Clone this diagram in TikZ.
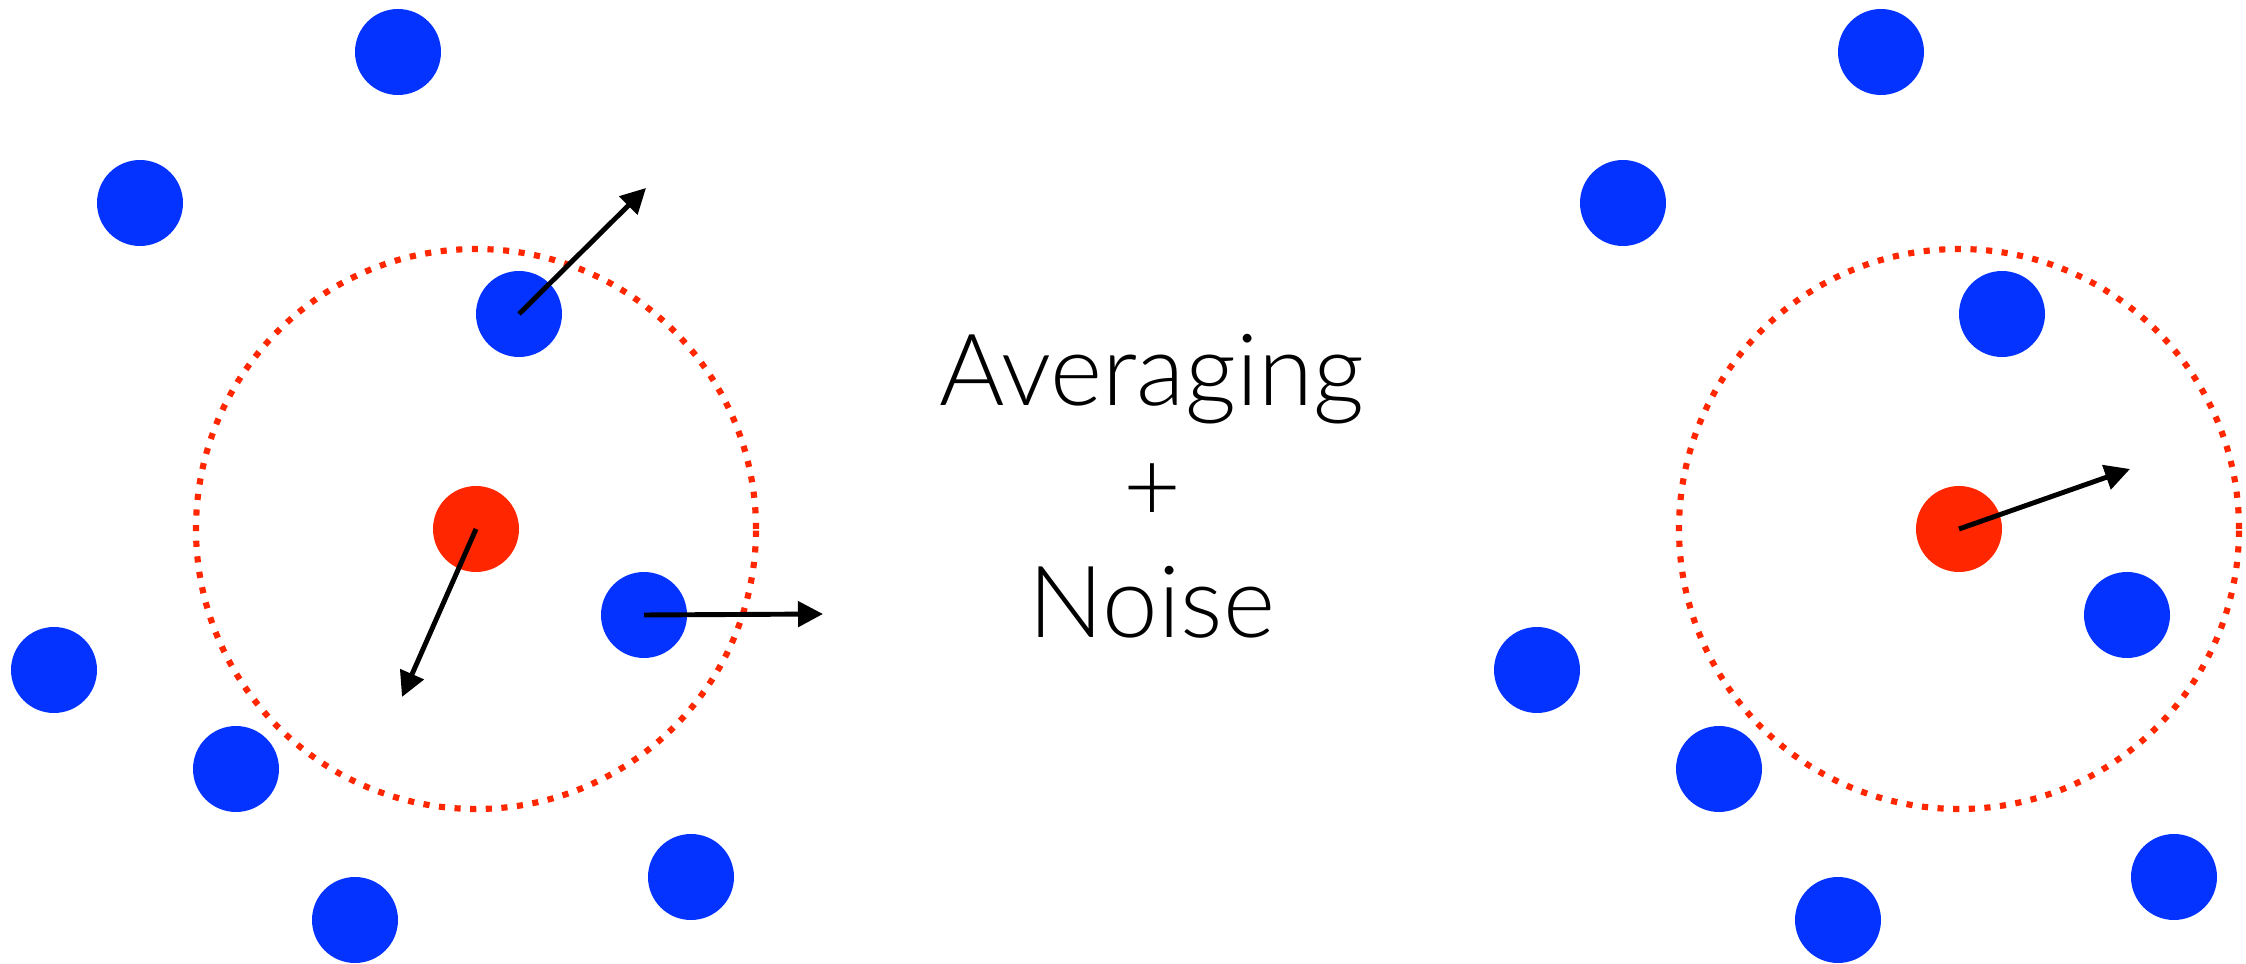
\documentclass[tikz,border=0pt]{standalone}
\usepackage{fontspec}
\newfontfamily\avgfont{Lato Light}
\usetikzlibrary{arrows.meta}
\definecolor{ptblue}{RGB}{4,51,255}
\definecolor{ptred}{RGB}{255,38,0}
\begin{document}
\begin{tikzpicture}[x=.1mm,y=-.1mm,
    dot/.style={circle,inner sep=0pt,minimum size=8.6mm},
    zone/.style={ptred,line width=1.75pt,dash pattern=on 1.75pt off 2.7pt},
    move/.style={-{Triangle[length=2.5mm,width=2.5mm]},line width=1.4pt}]
    \useasboundingbox (0,0) rectangle (2246,964);
    \foreach \p/\dx in {l/0,r/1483}{
      \draw[zone] (476+\dx,529) circle[radius=28mm];
      \foreach \n/\x/\y in {1/398/52,2/140/203,3/519/314,4/644/615,5/54/670,6/236/769,7/691/877,8/355/920}
        \node[dot,fill=ptblue] (\p\n) at (\x+\dx,\y) {};
      \node[dot,fill=ptred] (\p c) at (476+\dx,529) {};
    }
    \coordinate (l3to) at (646,188);
    \coordinate (l4to) at (823,614);
    \coordinate (lcto) at (402,697);
    \coordinate (rcto) at (2130,469);
    \draw[move] (l3.center) -- (l3to);
    \draw[move] (l4.center) -- (l4to);
    \draw[move] (lc.center) -- (lcto);
    \draw[move] (rc.center) -- (rcto);
    \node[font=\avgfont\fontsize{28.4}{33}\selectfont,align=center,inner sep=0pt,anchor=north] (label) at (1152,334) {Averaging\\+\\Noise};
  \end{tikzpicture}
\end{document}
